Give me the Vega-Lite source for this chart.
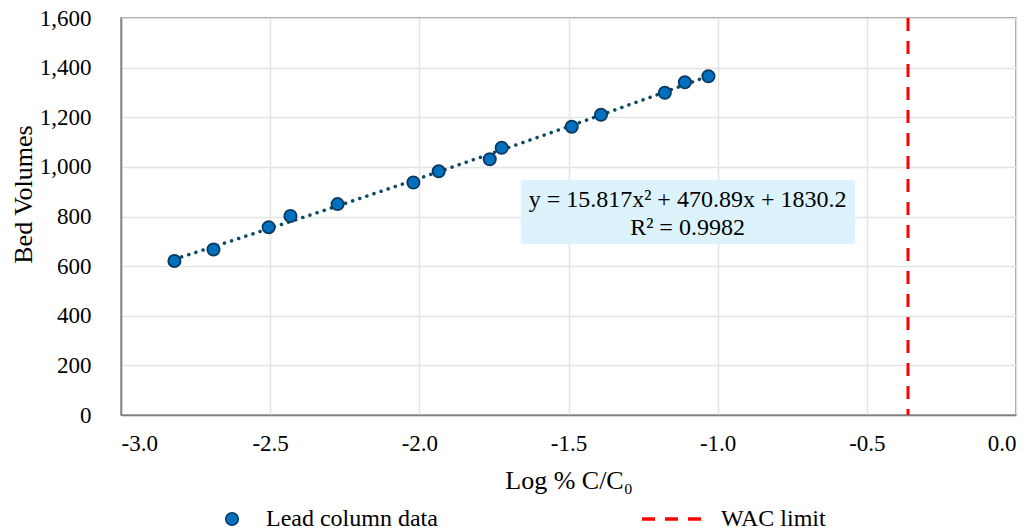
{
  "$schema": "https://vega.github.io/schema/vega-lite/v6.json",
  "autosize": {"type": "none"},
  "width": 895,
  "height": 397,
  "padding": {"left": 121, "top": 18, "right": 15, "bottom": 116},
  "background": "white",
  "config": {
    "font": "Liberation Serif",
    "view": {"stroke": "#7F7F7F", "strokeWidth": 1.5},
    "axis": {
      "labelFont": "Liberation Serif",
      "titleFont": "Liberation Serif",
      "labelColor": "#000000",
      "titleColor": "#000000",
      "labelFontSize": 23,
      "titleFontSize": 26,
      "titleFontWeight": "normal",
      "gridColor": "#E4E4E4",
      "gridWidth": 1.5,
      "domainColor": "#7F7F7F",
      "domainWidth": 1.5,
      "ticks": false,
      "tickSize": 0
    },
    "legend": {
      "labelFont": "Liberation Serif",
      "labelFontSize": 24,
      "labelColor": "#000000",
      "labelLimit": 400,
      "padding": 0
    }
  },
  "datasets": {
    "lead": [
      {"log_c": -2.821, "bv": 621},
      {"log_c": -2.690, "bv": 667},
      {"log_c": -2.505, "bv": 757},
      {"log_c": -2.432, "bv": 802},
      {"log_c": -2.274, "bv": 850},
      {"log_c": -2.020, "bv": 937},
      {"log_c": -1.935, "bv": 982},
      {"log_c": -1.764, "bv": 1031},
      {"log_c": -1.724, "bv": 1077},
      {"log_c": -1.489, "bv": 1162},
      {"log_c": -1.391, "bv": 1210},
      {"log_c": -1.177, "bv": 1299},
      {"log_c": -1.110, "bv": 1341},
      {"log_c": -1.031, "bv": 1365}
    ],
    "wac": [{"log_c": -0.362, "series": "WAC limit"}],
    "box": [{"x1": -1.660, "x2": -0.539, "y1": 689, "y2": 947}],
    "eq": [
      {"x": -1.101, "y": 866, "label": "y = 15.817x² + 470.89x + 1830.2"},
      {"x": -1.101, "y": 753, "label": "R² = 0.9982"}
    ]
  },
  "layer": [
    {
      "data": {"name": "box"},
      "mark": {"type": "rect", "fill": "#DDF3FB"},
      "encoding": {
        "x": {"field": "x1", "type": "quantitative", "scale": {"domain": [-3, 0], "nice": false, "zero": false},
          "axis": {
            "values": [-3, -2.5, -2, -1.5, -1, -0.5, 0],
            "labelExpr": "(datum.value < 0 ? '-' : '') + format(abs(datum.value), '.1f')",
            "labelPadding": 17,
            "title": "Log % C/C₀",
            "titleY": 65,
            "titleBaseline": "middle"
          }},
        "x2": {"field": "x2"},
        "y": {"field": "y1", "type": "quantitative", "scale": {"domain": [0, 1600], "nice": false},
          "axis": {
            "values": [0, 200, 400, 600, 800, 1000, 1200, 1400, 1600],
            "format": ",d",
            "labelPadding": 30,
            "title": "Bed Volumes",
            "titleX": -98,
            "titleY": 176,
            "titleAlign": "center",
            "titleBaseline": "middle",
            "titleAngle": -90
          }},
        "y2": {"field": "y2"}
      }
    },
    {
      "data": {"name": "eq"},
      "mark": {"type": "text", "font": "Liberation Serif", "fontSize": 24, "color": "#000000", "align": "center", "baseline": "middle"},
      "encoding": {
        "x": {"field": "x", "type": "quantitative"},
        "y": {"field": "y", "type": "quantitative"},
        "text": {"field": "label"}
      }
    },
    {
      "data": {"name": "lead"},
      "transform": [{"regression": "bv", "on": "log_c", "method": "poly", "order": 2}],
      "mark": {"type": "line", "color": "#0D4B63", "strokeWidth": 3.5, "strokeDash": [0.1, 7.4], "strokeCap": "round"},
      "encoding": {
        "x": {"field": "log_c", "type": "quantitative"},
        "y": {"field": "bv", "type": "quantitative"}
      }
    },
    {
      "data": {"name": "lead"},
      "mark": {"type": "point", "filled": true, "size": 150, "stroke": "#0B3A5E", "strokeWidth": 1.8, "opacity": 1},
      "encoding": {
        "x": {"field": "log_c", "type": "quantitative"},
        "y": {"field": "bv", "type": "quantitative"},
        "fill": {
          "datum": "Lead column data",
          "type": "nominal",
          "scale": {"domain": ["Lead column data"], "range": ["#0070C0"]},
          "legend": {
            "title": null,
            "orient": "none",
            "legendX": 99,
            "legendY": 489,
            "symbolType": "circle",
            "symbolSize": 160,
            "symbolStrokeColor": "#0B3A5E",
            "symbolStrokeWidth": 1.5,
            "symbolOpacity": 1,
            "labelOffset": 22
          }
        }
      }
    },
    {
      "data": {"name": "wac"},
      "mark": {"type": "rule", "strokeWidth": 3, "strokeDash": [13, 10]},
      "encoding": {
        "x": {"field": "log_c", "type": "quantitative"},
        "stroke": {
          "field": "series",
          "type": "nominal",
          "scale": {"domain": ["WAC limit"], "range": ["#FF0000"]},
          "legend": {
            "title": null,
            "orient": "none",
            "legendX": 519,
            "legendY": 469,
            "symbolType": "stroke",
            "symbolSize": 3600,
            "symbolStrokeWidth": 3.5,
            "symbolDash": [13, 10],
            "labelOffset": 17
          }
        }
      }
    }
  ]
}
